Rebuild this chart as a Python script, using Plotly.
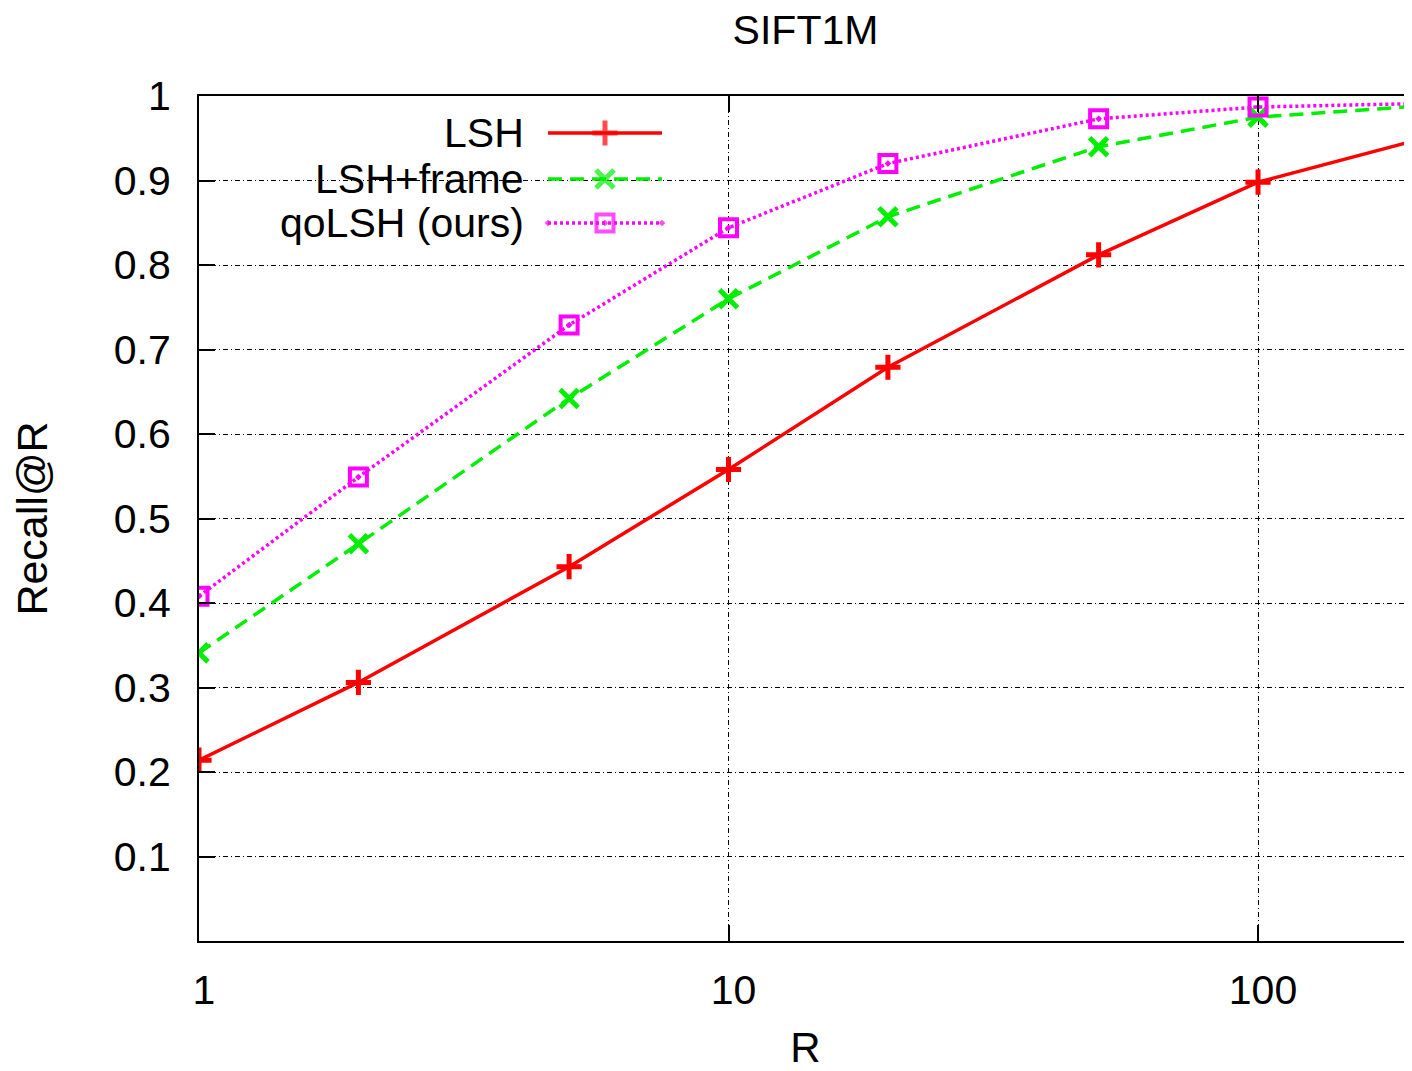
import plotly.graph_objects as go

# ---- data ----
R = [1, 2, 5, 10, 20, 50, 100, 200]
lsh = [0.214, 0.306, 0.443, 0.558, 0.679, 0.812, 0.898, 0.948]
lsh_frame = [0.341, 0.470, 0.642, 0.760, 0.857, 0.940, 0.975, 0.988]
qolsh = [0.408, 0.549, 0.729, 0.844, 0.920, 0.973, 0.987, 0.991]

names = ["LSH", "LSH+frame", "qoLSH (ours)"]
colors = ["#ff0000", "#00ee00", "#ff00ff"]
dashes = ["solid", "14px,8px", "3px,3px"]
symbols = ["cross-thin", "x-thin", "square-open-dot"]
series = [lsh, lsh_frame, qolsh]

y_ticks = [0.1, 0.2, 0.3, 0.4, 0.5, 0.6, 0.7, 0.8, 0.9, 1.0]
y_ticktext = ["0.1", "0.2", "0.3", "0.4", "0.5", "0.6", "0.7", "0.8", "0.9", "1"]
x_ticks = [1, 10, 100]
x_ticktext = ["1", "10", "100"]

FONT = "Liberation Sans, Arial, sans-serif"
FS = 41

def marker_style(sym, col, sizes):
    thin = sym.endswith("thin")
    return dict(symbol=sym, size=sizes, color=col,
                line=dict(color=col, width=5 if thin else 4))

fig = go.Figure()

for name, ys, col, dash, sym in zip(names, series, colors, dashes, symbols):
    sz = 18 if sym.endswith("thin") else 17
    fig.add_trace(go.Scatter(
        x=R, y=ys, mode="lines+markers", name=name,
        line=dict(color=col, width=3.5, dash=dash),
        marker=marker_style(sym, col, sz),
        showlegend=False,
    ))

# ---- manual gnuplot-style legend (text left of sample) ----
leg_rows = [0.9562, 0.9018, 0.8497]
leg_text_x = 0.2696
leg_x0, leg_xm, leg_x1 = 0.2877, 0.3347, 0.3817
for name, col, dash, sym, ly in zip(names, colors, dashes, symbols, leg_rows):
    sz = 18 if sym.endswith("thin") else 17
    fig.add_trace(go.Scatter(
        x=[leg_x0, leg_xm, leg_x1], y=[ly, ly, ly], mode="lines+markers",
        xaxis="x2", yaxis="y2", showlegend=False, hoverinfo="skip",
        line=dict(color=col, width=3.5, dash=dash),
        marker=marker_style(sym, col, [0, sz, 0]),
    ))
    fig.add_annotation(x=leg_text_x, y=ly, xref="paper", yref="paper",
                       text=name, showarrow=False, xanchor="right", yanchor="middle",
                       font=dict(family=FONT, size=FS, color="black"))

# white key box hiding grid lines
fig.add_shape(type="rect", xref="paper", yref="paper",
              x0=0.019, x1=0.40, y0=0.82, y1=0.985,
              fillcolor="white", line=dict(width=0), layer="between")

grid_dash = "5px,3px,1px,3px"

# page body has an 8px default margin: compensate
W, H = 1404, 1063

fig.update_layout(
    width=W, height=H,
    margin=dict(l=191, r=0, t=88, b=130),
    paper_bgcolor="white", plot_bgcolor="white",
    font=dict(family=FONT, size=FS, color="black"),
    title=dict(text="SIFT1M", x=0.5, xref="paper", xanchor="center",
               y=1 - 22 / H, yref="container", yanchor="middle",
               font=dict(family=FONT, size=FS, color="black")),
    xaxis=dict(type="log", range=[0, 2.2908], automargin=False,
               tickvals=x_ticks, ticktext=x_ticktext,
               ticks="inside", ticklen=16, tickwidth=2, tickcolor="black",
               showline=True, linecolor="black", linewidth=2, mirror="ticks",
               showgrid=True, gridcolor="black", gridwidth=1, griddash=grid_dash,
               zeroline=False, ticklabelstandoff=12, ticklabelshift=5,
               title=dict(text="R", standoff=26, font=dict(family=FONT, size=42))),
    yaxis=dict(range=[0, 1], tickvals=y_ticks, ticktext=y_ticktext, automargin=False,
               ticks="inside", ticklen=16, tickwidth=2, tickcolor="black",
               showline=True, linecolor="black", linewidth=2, mirror=False,
               showgrid=True, gridcolor="black", gridwidth=1, griddash=grid_dash,
               zeroline=False, ticklabelstandoff=18,
               title=dict(text="Recall@R", standoff=78, font=dict(family=FONT, size=43))),
    xaxis2=dict(overlaying="x", anchor="y2", range=[0, 1], visible=False),
    yaxis2=dict(overlaying="y", anchor="x2", range=[0, 1], visible=False),
)

fig.write_html("out.html")
